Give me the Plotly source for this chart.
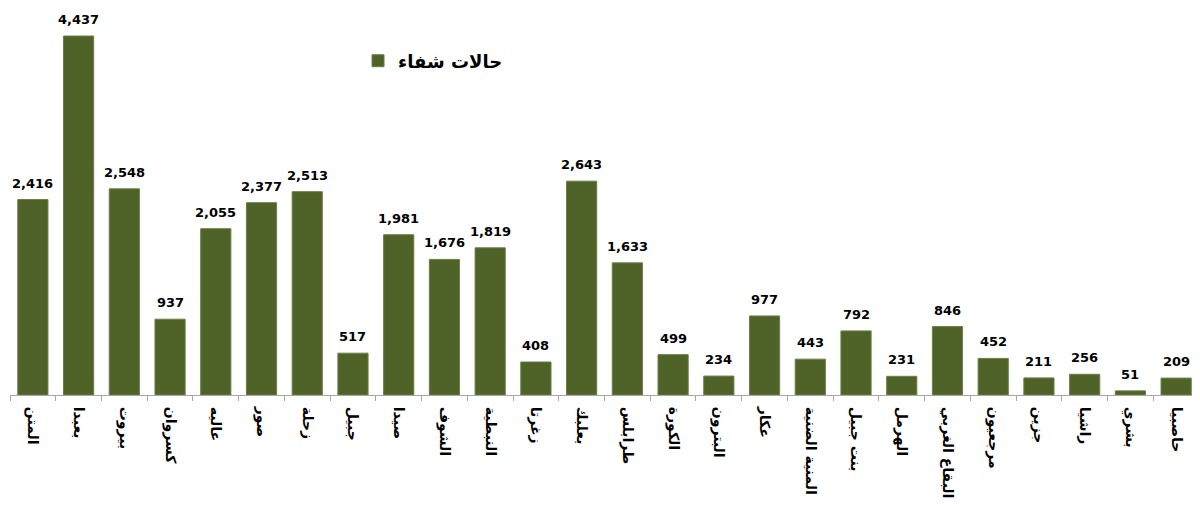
import plotly.graph_objects as go

categories = ["المتن", "بعبدا", "بيروت", "كسروان", "عاليه", "صور", "زحلة", "جبيل",
              "صيدا", "الشوف", "النبطية", "زغرتا", "بعلبك", "طرابلس", "الكورة", "البترون",
              "عكار", "المنية الضنية", "بنت جبيل", "الهرمل", "البقاع الغربي", "مرجعيون",
              "جزين", "راشيا", "بشري", "حاصبيا"]
recoveries = [2416, 4437, 2548, 937, 2055, 2377, 2513, 517,
              1981, 1676, 1819, 408, 2643, 1633, 499, 234,
              977, 443, 792, 231, 846, 452,
              211, 256, 51, 209]
series_name = "حالات شفاء"

fig = go.Figure()
fig.add_trace(go.Bar(
    x=categories, y=recoveries, name=series_name,
    marker=dict(color="#4F6228", line=dict(color="#6B7F45", width=1)),
    showlegend=True,
))

for c, v in zip(categories, recoveries):
    fig.add_annotation(x=c, y=v, text=f"{v:,}", showarrow=False,
                       xanchor="center", yanchor="bottom", yshift=7,
                       font=dict(family="DejaVu Sans", size=13, color="#000000", weight="bold"))

fig.update_layout(
    width=1192, height=498,
    margin=dict(l=2, r=1, t=0, b=111),
    paper_bgcolor="white", plot_bgcolor="white",
    bargap=0.34,
    showlegend=True,
    legend=dict(x=0.2927, y=0.863, xanchor="left", yanchor="middle",
                font=dict(family="DejaVu Sans", size=18, color="#000000", weight="bold"),
                bgcolor="rgba(0,0,0,0)", itemwidth=30),
    xaxis=dict(type="category", showline=True, linecolor="#A6A6A6", linewidth=1,
               ticks="outside", tickson="boundaries", ticklen=5, tickcolor="#A6A6A6",
               tickangle=90, showgrid=False, automargin=False, ticklabelstandoff=8,
               tickfont=dict(family="DejaVu Sans", size=14, color="#000000", weight="bold")),
    yaxis=dict(range=[0, 4783], visible=False, showgrid=False, automargin=False),
)

fig.write_html("out.html")
